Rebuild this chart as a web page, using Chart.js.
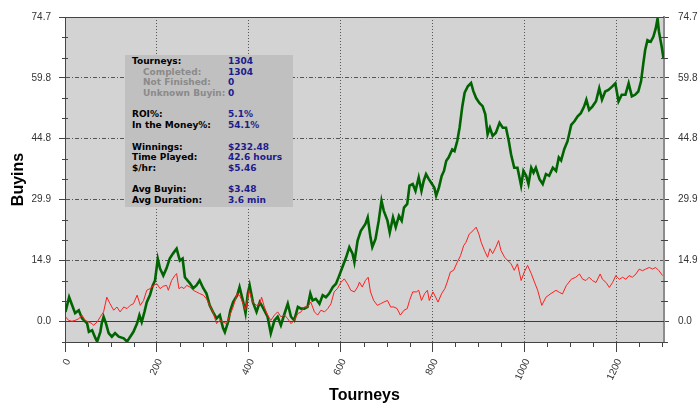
<!DOCTYPE html>
<html>
<head>
<meta charset="utf-8">
<script src="https://cdn.jsdelivr.net/npm/chart.js@4/dist/chart.umd.min.js"></script>
<style>
  html, body { margin: 0; padding: 0; background: #fff; }
  #wrap { position: relative; width: 700px; height: 413px; }
  #stats {
    position: absolute; left: 125px; top: 55px; width: 168px; height: 152px;
    background: #c0c0c0; box-sizing: border-box; padding-top: 1px;
    font: bold 9px 'DejaVu Sans', Verdana, sans-serif; color: #000;
  }
  #stats .row { position: relative; height: 10.7px; line-height: 10.7px; white-space: nowrap; }
  #stats .lbl { position: absolute; left: 7px; }
  #stats .sub { left: 18px; color: #8a8a8a; }
  #stats .val { position: absolute; left: 103px; color: #1c1c8c; }
</style>
</head>
<body>
<div id="wrap">
  <canvas id="profitChart" width="700" height="413"></canvas>
  <div id="stats"></div>
</div>
<script>
// Values (tourney number / buyins)
const greenTourneys = [1, 9, 22, 30, 37, 48, 52, 59, 66, 70, 77, 80, 84, 89, 95, 102, 109, 117, 128, 135,
  142, 149, 157, 162, 167, 173, 178, 185, 191, 196, 202, 207, 214, 221, 228, 235, 243, 250, 256, 261,
  272, 279, 286, 293, 301, 308, 315, 322, 330, 337, 344, 348, 355, 360, 366, 375, 380, 388, 393, 398,
  402, 409, 417, 424, 430, 441, 448, 456, 463, 470, 478, 485, 492, 499, 507, 514, 521, 528, 534, 539,
  546, 554, 561, 568, 575, 583, 590, 597, 604, 612, 619, 626, 630, 637, 644, 654, 659, 665, 669, 676,
  683, 689, 694, 702, 707, 714, 720, 727, 733, 738, 745, 750, 757, 763, 770, 776, 781, 786, 792, 799,
  804, 808, 814, 820, 825, 830, 835, 843, 848, 854, 859, 865, 870, 877, 884, 889, 895, 902, 909, 915,
  920, 925, 931, 938, 946, 953, 960, 966, 971, 978, 985, 993, 998, 1004, 1009, 1015, 1020, 1025, 1033, 1040,
  1047, 1054, 1062, 1069, 1075, 1080, 1087, 1094, 1102, 1109, 1116, 1123, 1130, 1135, 1141, 1148, 1156, 1163, 1169, 1176,
  1183, 1191, 1198, 1205, 1212, 1220, 1227, 1234, 1241, 1248, 1254, 1259, 1263, 1268, 1275, 1281, 1286, 1290, 1293, 1299, 1303];
const greenBuyins = [2.3, 5.9, 2.0, 2.7, 0.7, -0.5, -2.6, -2.2, -4.1, -5.0, -2.6, -0.5, 1.1, -0.5, -2.9, -3.8, -2.9, -3.8, -4.2, -5.0,
  -3.8, -2.6, -0.5, 1.5, -0.2, 2.3, 4.7, 6.4, 8.8, 10.0, 15.3, 12.9, 11.2, 13.0, 15.4, 16.6, 17.8, 14.9, 15.4, 10.8,
  9.3, 8.1, 8.8, 10.0, 8.1, 6.8, 3.9, 2.3, 0.7, 1.5, -1.7, -2.7, -0.2, 2.7, 4.7, 6.4, 8.4, 4.7, 2.0, 6.8,
  8.8, 4.7, 2.3, 4.7, 3.5, 1.1, -3.0, 0.2, 1.1, -1.0, 1.9, 4.3, 1.1, 0.2, 3.5, 3.1, 3.1, 3.5, 6.8, 5.1,
  5.5, 4.3, 6.4, 5.9, 6.8, 8.4, 9.2, 11.2, 13.3, 15.7, 18.2, 16.6, 14.5, 19.8, 22.2, 23.9, 25.5, 20.6, 18.2, 20.2,
  24.7, 29.6, 27.1, 24.7, 21.8, 25.5, 23.1, 25.9, 24.7, 27.9, 28.8, 33.3, 33.7, 32.0, 35.3, 32.0, 34.5, 36.1, 34.9, 33.7,
  32.8, 30.8, 32.8, 35.7, 36.9, 39.4, 40.2, 42.2, 41.8, 44.3, 47.5, 52.8, 56.1, 57.7, 58.5, 56.5, 54.8, 53.6, 52.8, 50.8,
  45.9, 47.5, 45.5, 46.3, 48.7, 47.5, 47.5, 44.3, 41.0, 37.7, 37.7, 33.3, 36.9, 35.7, 33.7, 37.7, 36.5, 37.7, 34.9, 33.7,
  36.1, 35.7, 37.7, 36.9, 40.2, 39.5, 42.3, 44.2, 48.2, 49.1, 50.3, 51.1, 52.7, 54.4, 51.9, 52.7, 54.0, 57.2, 54.4, 56.4,
  56.8, 57.6, 58.4, 54.0, 55.6, 55.6, 58.4, 55.2, 55.6, 56.4, 58.9, 63.3, 66.6, 69.0, 68.6, 69.9, 71.9, 74.3, 71.1, 67.4, 64.5];

const redTourneys = [1, 8, 15, 22, 30, 37, 44, 52, 59, 62, 70, 77, 84, 91, 98, 106, 113, 120, 128, 135,
  142, 149, 157, 164, 171, 178, 185, 193, 200, 207, 214, 221, 225, 232, 239, 243, 248, 254, 259, 265,
  272, 279, 286, 293, 301, 308, 315, 322, 330, 337, 344, 352, 359, 366, 375, 380, 388, 393, 401, 408,
  417, 424, 428, 434, 441, 448, 456, 463, 470, 478, 485, 492, 499, 507, 514, 521, 528, 535, 543, 550,
  557, 565, 572, 579, 586, 593, 601, 608, 615, 622, 630, 637, 641, 647, 654, 660, 665, 672, 680, 687,
  694, 702, 709, 716, 723, 730, 738, 745, 750, 757, 765, 770, 776, 783, 789, 793, 801, 807, 812, 820,
  827, 832, 839, 846, 854, 861, 868, 873, 880, 888, 895, 901, 906, 913, 920, 925, 931, 938, 944, 949,
  957, 964, 971, 978, 985, 993, 1000, 1007, 1015, 1022, 1029, 1035, 1038, 1047, 1058, 1069, 1076, 1083, 1091, 1102,
  1112, 1120, 1127, 1134, 1141, 1148, 1156, 1165, 1170, 1178, 1185, 1192, 1199, 1207, 1214, 1221, 1228, 1235, 1243, 1250,
  1257, 1264, 1272, 1279, 1286, 1293, 1301];
const redBuyins = [1.1, 0.2, 0.0, 0.2, 0.6, 1.5, 0.2, -0.2, -0.6, -1.0, -0.2, 1.1, 2.3, 5.9, 4.3, 2.7, 3.5, 2.3, 3.5, 3.1,
  3.9, 4.3, 6.4, 3.9, 5.1, 7.6, 8.0, 8.8, 9.2, 8.0, 8.6, 8.8, 7.6, 10.0, 11.2, 11.7, 8.0, 8.4, 8.0, 8.8,
  8.4, 7.6, 7.2, 6.8, 6.4, 5.5, 3.9, 2.3, -0.6, 0.2, -0.2, -0.6, 1.5, 3.5, 6.8, 6.4, 4.3, 2.7, 7.6, 4.7,
  3.9, 4.3, 5.9, 3.5, 1.5, 0.2, 1.5, 2.3, 1.1, 1.5, 0.6, -0.6, 0.2, 1.9, 2.3, 3.5, 3.5, 4.7, 2.3, 1.5,
  2.7, 2.3, 3.1, 4.3, 7.2, 8.0, 9.6, 10.4, 9.2, 7.6, 7.2, 8.4, 9.6, 8.4, 10.0, 10.8, 7.2, 5.1, 3.9, 4.3,
  4.7, 5.1, 3.5, 3.5, 3.1, 1.5, 2.7, 3.1, 5.1, 7.2, 7.2, 7.6, 5.1, 6.8, 7.6, 5.1, 7.2, 5.9, 4.7, 6.8,
  8.0, 9.6, 12.1, 12.5, 14.5, 16.1, 18.6, 19.4, 21.4, 22.2, 23.1, 21.4, 19.4, 17.4, 15.7, 17.8, 16.6, 18.2, 19.8, 17.4,
  15.7, 14.9, 14.1, 12.5, 14.1, 10.0, 12.1, 13.7, 11.7, 9.6, 7.6, 5.1, 3.9, 5.9, 6.8, 7.6, 7.1, 6.7, 8.7, 10.3,
  10.8, 11.6, 10.3, 10.0, 10.8, 10.0, 9.5, 11.6, 10.3, 9.5, 8.3, 9.5, 11.2, 10.3, 10.8, 10.3, 11.2, 10.8, 11.6, 12.8,
  12.4, 12.8, 13.2, 12.8, 13.2, 12.4, 11.2];

const xTickValues = [0, 200, 400, 600, 800, 1000, 1200];
const yTickValues = [0, 14.94, 29.88, 44.82, 59.76, 74.7];
const yTickLabels = ['0.0', '14.9', '29.9', '44.8', '59.8', '74.7'];

const statLabels = ['Tourneys:', 'Completed:', 'Not Finished:', 'Unknown Buyin:', '', 'ROI%:', 'In the Money%:', '',
  'Winnings:', 'Time Played:', '$/hr:', '', 'Avg Buyin:', 'Avg Duration:'];
const statValues = ['1304', '1304', '0', '0', '', '5.1%', '54.1%', '', '$232.48', '42.6 hours', '$5.46', '', '$3.48', '3.6 min'];
const statSubRows = [1, 2, 3];

// Stats box
const stats = document.getElementById('stats');
stats.innerHTML = statLabels.map((lbl, i) => `
  <div class="row"><span class="lbl ${statSubRows.includes(i) ? 'sub' : ''}">${lbl}</span><span class="val">${statValues[i]}</span></div>
`).join('');

const tickFont = { family: "'Liberation Sans Narrow', 'Liberation Sans', Arial, sans-serif", size: 10 };
const titleFont = { family: "'Liberation Sans', Arial, sans-serif", size: 16, weight: 'bold' };

// Plot background, zero line, minor ticks and top border
const plotDecor = {
  id: 'plotDecor',
  beforeDraw(chart) {
    const { ctx, chartArea: a } = chart;
    ctx.save();
    ctx.fillStyle = '#d3d3d3';
    ctx.fillRect(a.left, a.top, a.right - a.left, a.bottom - a.top);
    ctx.restore();
  },
  beforeDatasetsDraw(chart) {
    const { ctx, chartArea: a, scales } = chart;
    const y0 = Math.round(scales.y.getPixelForValue(0)) + 0.5;
    ctx.save();
    ctx.strokeStyle = '#3c3c3c';
    ctx.lineWidth = 1.2;
    ctx.beginPath();
    ctx.moveTo(a.left, y0);
    ctx.lineTo(a.right, y0);
    ctx.stroke();
    ctx.restore();
  },
  afterDraw(chart) {
    const { ctx, chartArea: a, scales } = chart;
    ctx.save();
    ctx.strokeStyle = '#444';
    ctx.lineWidth = 1;
    ctx.beginPath();
    for (let v = 50; v <= 1300; v += 50) {
      if (v % 200 === 0) continue;
      const px = Math.round(scales.x.getPixelForValue(v)) + 0.5;
      ctx.moveTo(px, a.bottom);
      ctx.lineTo(px, a.bottom + 5);
    }
    const step = 14.94 / 3;
    for (let k = -1; k <= 15; k++) {
      if (k % 3 === 0) continue;
      const py = Math.round(scales.y.getPixelForValue(k * step)) + 0.5;
      ctx.moveTo(a.left - 3, py);
      ctx.lineTo(a.left + 3, py);
      ctx.moveTo(a.right - 3, py);
      ctx.lineTo(a.right + 4, py);
    }
    ctx.moveTo(a.left, a.top + 0.5);
    ctx.lineTo(a.right, a.top + 0.5);
    ctx.stroke();
    ctx.restore();
  }
};

const yAxisBase = {
  type: 'linear',
  min: -5.1,
  max: 74.7,
  afterBuildTicks: (scale) => { scale.ticks = yTickValues.map(v => ({ value: v })); },
  ticks: {
    autoSkip: false,
    font: tickFont,
    color: '#333',
    callback: (value, index) => yTickLabels[index]
  }
};

const ctx = document.getElementById('profitChart');
new Chart(ctx, {
  type: 'line',
  data: {
    datasets: [
      {
        label: 'All',
        data: redTourneys.map((t, i) => ({ x: t, y: redBuyins[i] })),
        borderColor: '#ff1e1e',
        borderWidth: 1,
        pointRadius: 0,
        tension: 0,
        order: 0
      },
      {
        label: 'Profit',
        data: greenTourneys.map((t, i) => ({ x: t, y: greenBuyins[i] })),
        borderColor: '#006400',
        borderWidth: 2.6,
        pointRadius: 0,
        tension: 0,
        order: 1
      }
    ]
  },
  options: {
    responsive: false,
    animation: false,
    layout: { padding: { top: 17, left: 0, right: 0, bottom: 0 } },
    plugins: {
      legend: { display: false },
      tooltip: { enabled: false }
    },
    scales: {
      x: {
        type: 'linear',
        min: 0,
        max: 1304,
        afterBuildTicks: (scale) => { scale.ticks = xTickValues.map(v => ({ value: v })); },
        afterFit: (scale) => { scale.height = 71; },
        grid: { color: '#555', tickColor: '#444', tickLength: 10, tickBorderDash: [] },
        border: { color: '#444', width: 1, dash: [1, 2] },
        ticks: {
          autoSkip: false,
          minRotation: 65,
          maxRotation: 65,
          padding: 5,
          labelOffset: 3,
          font: tickFont,
          color: '#333',
          callback: (value) => String(value)
        },
        title: { display: true, text: 'Tourneys', font: titleFont, color: '#000', padding: { top: 0, bottom: 8 } }
      },
      y: {
        ...yAxisBase,
        position: 'left',
        afterFit: (scale) => { scale.width = 65; },
        grid: { color: '#555', tickColor: '#444', tickLength: 6, tickBorderDash: [] },
        border: { color: '#444', width: 1, dash: [4, 2, 1, 2] },
        ticks: { ...yAxisBase.ticks, padding: 8 },
        title: { display: true, text: 'Buyins', font: titleFont, color: '#000', padding: { top: 9, bottom: 0 } }
      },
      y2: {
        ...yAxisBase,
        position: 'right',
        afterFit: (scale) => { scale.width = 36; },
        grid: { drawOnChartArea: false, tickColor: '#444', tickLength: 5 },
        border: { color: '#8c8c8c', width: 2 },
        ticks: { ...yAxisBase.ticks, padding: 9 }
      }
    }
  },
  plugins: [plotDecor]
});
</script>
</body>
</html>
